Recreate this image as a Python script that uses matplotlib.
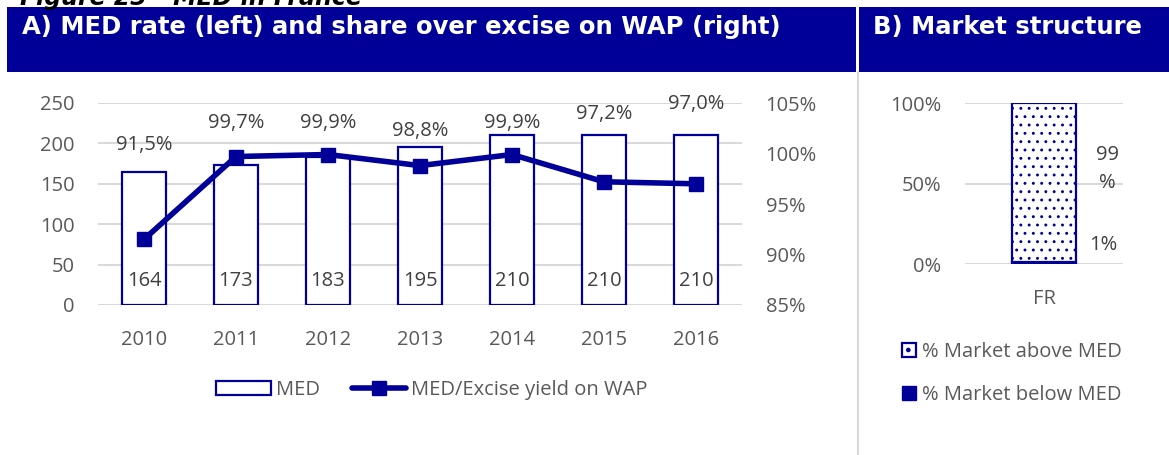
import matplotlib.pyplot as plt
import numpy as np
from matplotlib.patches import Patch, Rectangle
from matplotlib.lines import Line2D

plt.rcParams.update({
    'font.family': ['Open Sans', 'DejaVu Sans'],
    'font.size': 14,
    'hatch.linewidth': 0.9,
    'hatch.color': '#3535bb',
})

# data
years = ['2010', '2011', '2012', '2013', '2014', '2015', '2016']
med = [164, 173, 183, 195, 210, 210, 210]
share = [91.5, 99.7, 99.9, 98.8, 99.9, 97.2, 97.0]
share_label_y = [198, 225, 225, 215, 225, 237, 249]   # label heights (left axis units)
countries = ['FR']
above_med = [99]
below_med = [1]

blue = '#000099'
grey_txt = '#595959'
lab_txt = '#404040'
grid_c = '#d9d9d9'

W, H = 1169, 455
fig = plt.figure(figsize=(W / 100, H / 100), dpi=100)


def box(l, t, r, b):
    return [l / W, 1 - b / H, (r - l) / W, (b - t) / H]


# header bands
fig.add_artist(Rectangle((7 / W, 1 - 72 / H), (856 - 7) / W, 65 / H,
                         transform=fig.transFigure, color=blue, lw=0))
fig.add_artist(Rectangle((859 / W, 1 - 72 / H), (W - 859) / W, 65 / H,
                         transform=fig.transFigure, color=blue, lw=0))
fig.add_artist(Line2D([857.5 / W, 857.5 / W], [0, 1 - 72 / H],
                      transform=fig.transFigure, color=grid_c, lw=1.5))
fig.text(22 / W, 1 - 27 / H, 'A) MED rate (left) and share over excise on WAP (right)',
         color='white', fontweight='bold', family='DejaVu Sans', size=17.5, va='center')
fig.text(873 / W, 1 - 27 / H, 'B) Market structure',
         color='white', fontweight='bold', family='DejaVu Sans', size=17.5, va='center')
fig.text(20 / W, 1 - 5 / H, 'Figure 23 - MED in France', color='black',
         fontweight='bold', style='italic', family='DejaVu Sans', size=17, va='baseline')

# panel A
x = np.arange(len(years))
ax1 = fig.add_axes(box(98, 103, 742, 305))
ax1.bar(x, med, width=0.48, color='white', edgecolor=blue, linewidth=1.6, zorder=2)
ax1.set_xlim(-0.5, len(years) - 0.5)
ax1.set_ylim(0, 250)
ax1.set_yticks(range(0, 251, 50))
ax1.set_xticks(x)
ax1.set_xticklabels(years)
ax1.grid(axis='y', color=grid_c, lw=1.5)
ax1.set_axisbelow(True)
ax1.tick_params(length=0, colors=grey_txt, labelsize=14.5)
ax1.tick_params(axis='y', pad=17)
ax1.tick_params(axis='x', pad=18)
for s in ax1.spines.values():
    s.set_visible(False)
for i, v in enumerate(med):
    ax1.text(i, 30, str(v), ha='center', va='center', color=lab_txt, size=14.5, zorder=5)
for i, v in enumerate(share):
    ax1.text(i, share_label_y[i], f'{v:.1f}'.replace('.', ',') + '%',
             ha='center', va='center', color=lab_txt, size=14.5, zorder=5)

ax2 = ax1.twinx()
ax2.plot(x, share, color=blue, lw=4, marker='s', ms=10, zorder=3)
ax2.set_ylim(85, 105)
ax2.set_yticks(range(85, 106, 5))
ax2.set_yticklabels([f'{t}%' for t in range(85, 106, 5)])
ax2.tick_params(length=0, colors=grey_txt, labelsize=14.5, pad=17)
for s in ax2.spines.values():
    s.set_visible(False)

legA = [Patch(facecolor='white', edgecolor=blue, lw=1.6, label='MED'),
        Line2D([0], [0], color=blue, lw=4, marker='s', ms=10,
               solid_capstyle='round', label='MED/Excise yield on WAP')]
fig.legend(handles=legA, loc='center', bbox_to_anchor=(432 / W, 1 - 390 / H), ncol=2,
           frameon=False, fontsize=14.5, labelcolor=grey_txt, handlelength=2.7,
           handleheight=0.7, handletextpad=0.25, columnspacing=1.6)

# panel B
axb = fig.add_axes(box(965, 103, 1123, 264))
xb = np.arange(len(countries))
axb.bar(xb, below_med, width=0.405, color=blue, edgecolor=blue, lw=1.6)
axb.bar(xb, above_med, bottom=below_med, width=0.405, color='white',
        edgecolor=blue, lw=1.6, hatch='..')
axb.set_xlim(-0.5, 0.5)
axb.set_ylim(0, 100)
axb.set_yticks([0, 50, 100])
axb.set_yticklabels(['0%', '50%', '100%'])
axb.set_xticks(xb)
axb.set_xticklabels(countries)
axb.grid(axis='y', color=grid_c, lw=1.5)
axb.set_axisbelow(True)
axb.tick_params(length=0, colors=grey_txt, labelsize=14.5)
axb.tick_params(axis='y', pad=17)
axb.tick_params(axis='x', pad=18)
for s in axb.spines.values():
    s.set_visible(False)
axb.text(0.40, 59, f'{above_med[0]}\n%', ha='center', va='center', color=lab_txt,
         size=14.5, linespacing=1.55)
axb.text(0.375, 12, f'{below_med[0]}%', ha='center', va='center', color=lab_txt, size=14.5)

legB = [Patch(facecolor='white', edgecolor=blue, lw=1.6, hatch='.', label='% Market above MED'),
        Patch(facecolor=blue, edgecolor=blue, label='% Market below MED')]
fig.legend(handles=legB, loc='upper left', bbox_to_anchor=(884 / W, 1 - 324 / H),
           frameon=False, fontsize=14.5, labelcolor=grey_txt, handlelength=0.7,
           handleheight=0.7, handletextpad=0.3, labelspacing=1.15)

fig.savefig('out.png', dpi=100)
